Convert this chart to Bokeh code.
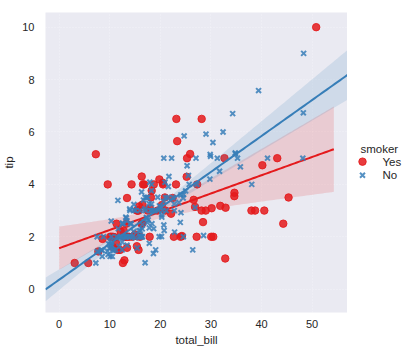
import numpy as np
from bokeh.plotting import figure
from bokeh.layouts import row
from bokeh.models import Range1d, FixedTicker
from bokeh.core.properties import value
from bokeh.embed import file_html
from bokeh.resources import INLINE

# ---- data (tips dataset) ----
yes_bill = [38.01, 11.24, 20.29, 13.81, 11.02, 18.29, 3.07, 15.01, 26.86, 25.28,
            17.92, 19.44, 32.68, 28.97, 5.75, 16.32, 40.17, 27.28, 12.03, 21.01,
            11.35, 15.38, 44.3, 22.42, 15.36, 20.49, 25.21, 14.31, 16.0, 17.51,
            10.59, 10.63, 50.81, 15.81, 7.25, 31.85, 16.82, 32.9, 17.89, 14.48,
            9.6, 34.63, 34.65, 23.33, 45.35, 23.17, 40.55, 20.9, 30.46, 18.15,
            23.1, 15.69, 19.81, 28.44, 15.48, 16.58, 10.34, 43.11, 13.0, 13.51,
            18.71, 12.74, 13.0, 16.4, 20.53, 16.47, 26.59, 38.73, 24.27, 12.76,
            30.06, 25.89, 13.27, 28.17, 12.9, 28.15, 11.59, 7.74, 30.14, 12.16,
            13.42, 8.58, 13.42, 16.27, 10.09, 22.12, 24.01, 15.69, 15.53, 12.6,
            32.83, 27.18, 22.67]
yes_tip = [3.0, 1.76, 3.21, 2.0, 1.98, 3.76, 1.0, 2.09, 3.14, 5.0,
           3.08, 3.0, 5.0, 3.0, 1.0, 4.3, 4.73, 4.0, 1.5, 3.0,
           2.5, 3.0, 2.5, 3.48, 1.64, 4.06, 4.29, 4.0, 2.0, 3.0,
           1.61, 2.0, 10.0, 3.16, 5.15, 3.18, 4.0, 3.11, 2.0, 2.0,
           4.0, 3.55, 3.68, 5.65, 3.5, 6.5, 3.0, 3.5, 2.0, 3.5,
           4.0, 1.5, 4.19, 2.56, 2.02, 4.0, 2.0, 5.0, 2.0, 2.0,
           4.0, 2.01, 2.0, 2.5, 4.0, 3.23, 3.41, 3.0, 2.03, 2.23,
           2.0, 5.16, 2.5, 6.5, 1.1, 3.0, 1.5, 1.44, 3.09, 2.2,
           3.48, 1.92, 1.58, 2.5, 2.0, 2.88, 2.0, 3.0, 3.0, 1.0,
           1.17, 2.0, 2.0]
no_bill = [16.99, 10.34, 21.01, 23.68, 24.59, 25.29, 8.77, 26.88, 15.04, 14.78,
           10.27, 35.26, 15.42, 18.43, 14.83, 21.58, 10.33, 16.29, 16.97, 20.65,
           17.92, 20.29, 15.77, 39.42, 19.82, 17.81, 13.37, 12.69, 21.7, 19.65,
           9.55, 18.35, 15.06, 20.69, 17.78, 24.06, 16.31, 16.93, 18.69, 31.27,
           16.04, 17.46, 13.94, 9.68, 30.4, 18.29, 22.23, 32.4, 28.55, 18.04,
           12.54, 10.29, 34.81, 9.94, 25.56, 19.49, 26.41, 48.27, 17.59, 20.08,
           16.45, 20.23, 12.02, 17.07, 14.73, 10.51, 27.2, 22.76, 17.29, 16.66,
           10.07, 15.98, 34.83, 13.03, 18.28, 24.71, 21.16, 22.49, 22.75, 12.46,
           20.92, 18.24, 14.0, 7.25, 38.07, 23.95, 25.71, 17.31, 29.93, 10.65,
           12.43, 24.08, 11.69, 13.42, 14.26, 15.95, 12.48, 29.8, 8.52, 14.52,
           11.38, 22.82, 19.08, 20.27, 11.17, 12.26, 18.26, 8.51, 10.33, 14.15,
           13.16, 17.47, 34.3, 41.19, 27.05, 16.43, 8.35, 18.64, 11.87, 9.78,
           7.51, 14.07, 13.13, 17.26, 24.55, 19.77, 29.85, 48.17, 25.0, 13.39,
           16.49, 21.5, 12.66, 16.21, 13.81, 24.52, 20.76, 31.71, 20.69, 7.56,
           48.33, 15.98, 20.45, 13.28, 11.61, 10.77, 10.07, 35.83, 29.03, 17.82,
           18.78]
no_tip = [1.01, 1.66, 3.5, 3.31, 3.61, 4.71, 2.0, 3.12, 1.96, 3.23,
          1.71, 5.0, 1.57, 3.0, 3.02, 3.92, 1.67, 3.71, 3.5, 3.35,
          4.08, 2.75, 2.23, 7.58, 3.18, 2.34, 2.0, 2.0, 4.3, 3.0,
          1.45, 2.5, 3.0, 2.45, 3.27, 3.6, 2.0, 3.07, 2.31, 5.0,
          2.24, 2.54, 3.06, 1.32, 5.6, 3.0, 5.0, 6.0, 2.05, 3.0,
          2.5, 2.6, 5.2, 1.56, 4.34, 3.51, 1.5, 6.73, 2.64, 3.15,
          2.47, 2.01, 1.97, 3.0, 2.2, 1.25, 4.0, 3.0, 2.71, 3.4,
          1.83, 2.03, 5.17, 2.0, 4.0, 5.85, 3.0, 3.5, 3.25, 1.5,
          4.08, 3.76, 3.0, 1.0, 4.0, 2.55, 4.0, 3.5, 5.07, 1.5,
          1.8, 2.92, 2.31, 1.68, 2.5, 2.0, 2.52, 4.2, 1.48, 2.0,
          2.0, 2.18, 1.5, 2.83, 1.5, 2.0, 3.25, 1.25, 2.0, 2.0,
          2.75, 3.5, 6.7, 5.0, 5.0, 2.3, 1.5, 1.36, 1.63, 1.73,
          2.0, 2.5, 2.0, 2.74, 2.0, 2.0, 5.14, 5.0, 3.75, 2.61,
          2.0, 3.5, 2.5, 2.0, 2.0, 3.48, 2.24, 4.5, 5.0, 1.44,
          9.0, 3.0, 3.0, 2.72, 3.39, 1.47, 1.25, 4.67, 5.92, 1.75,
          3.0]

hue_levels = ["Yes", "No"]
x_ticks = [0, 10, 20, 30, 40, 50]
y_ticks = [0, 2, 4, 6, 8, 10]
x_lim = (-2.7, 57.0)
y_lim = (-0.89, 10.56)
yes_fit_span = (0.0, 54.3)
no_fit_span = x_lim

RED = "#e41a1c"
BLUE = "#377eb8"
BG = "#eaeaf2"
TXT = "#262626"
FONT = "Liberation Sans"


def fit_band(x, y, span, n=120):
    """OLS fit with a leverage-adjusted (HC3) 95% band, close to a bootstrap CI."""
    x = np.asarray(x, float)
    y = np.asarray(y, float)
    X = np.column_stack([np.ones_like(x), x])
    beta, *_ = np.linalg.lstsq(X, y, rcond=None)
    resid = y - X @ beta
    xtx_inv = np.linalg.inv(X.T @ X)
    h = np.sum((X @ xtx_inv) * X, axis=1)
    w = (resid / (1 - h)) ** 2
    meat = X.T @ (X * w[:, None])
    cov = xtx_inv @ meat @ xtx_inv
    grid = np.linspace(span[0], span[1], n)
    G = np.column_stack([np.ones_like(grid), grid])
    yhat = G @ beta
    se = np.sqrt(np.sum((G @ cov) * G, axis=1))
    return grid, yhat, yhat - 1.96 * se, yhat + 1.96 * se


p = figure(frame_width=302, frame_height=300,
           min_border_left=43, min_border_right=0, min_border_top=12, min_border_bottom=40,
           x_range=Range1d(*x_lim), y_range=Range1d(*y_lim),
           output_backend="svg", toolbar_location=None)
p.background_fill_color = BG
p.border_fill_color = "white"
p.outline_line_color = None

for ax in (p.xaxis[0], p.yaxis[0]):
    ax.axis_line_color = None
    ax.major_tick_line_color = None
    ax.minor_tick_line_color = None
    ax.major_tick_out = 0
    ax.major_tick_in = 0
    ax.major_label_text_font = FONT
    ax.major_label_text_font_size = "11px"
    ax.major_label_text_color = TXT
    ax.axis_label_text_font = FONT
    ax.axis_label_text_font_size = "11.5px"
    ax.axis_label_text_font_style = "normal"
    ax.axis_label_text_color = TXT

p.xaxis.ticker = FixedTicker(ticks=x_ticks)
p.yaxis.ticker = FixedTicker(ticks=y_ticks)
p.xaxis.axis_label = "total_bill"
p.yaxis.axis_label = "tip"
p.xaxis.major_label_standoff = 7
p.xaxis.axis_label_standoff = 3
p.yaxis.major_label_standoff = 11
p.yaxis.axis_label_standoff = 4

p.xgrid.ticker = FixedTicker(ticks=x_ticks)
p.ygrid.ticker = FixedTicker(ticks=y_ticks)
for g in (p.xgrid[0], p.ygrid[0]):
    g.grid_line_color = "white"
    g.grid_line_alpha = 0.45
    g.grid_line_dash = "1 2"
    g.grid_line_width = 1

# Yes (smokers) first
p.scatter(yes_bill, yes_tip, marker="circle", size=7.5, fill_color=RED, line_color=RED,
          fill_alpha=0.85, line_alpha=0.85)
gx, gy, lo, hi = fit_band(yes_bill, yes_tip, yes_fit_span)
p.varea(x=gx, y1=lo, y2=hi, fill_color=RED, fill_alpha=0.15)
p.line(gx, gy, line_color=RED, line_width=2)

# No (non-smokers)
p.scatter(no_bill, no_tip, marker="x", size=7, line_color=BLUE, line_width=2, line_alpha=0.85)
gx, gy, lo, hi = fit_band(no_bill, no_tip, no_fit_span)
p.varea(x=gx, y1=lo, y2=hi, fill_color=BLUE, fill_alpha=0.15)
p.line(gx, gy, line_color=BLUE, line_width=2)

# legend panel
lg = figure(width=63, height=352, x_range=Range1d(345, 408), y_range=Range1d(352, 0),
            min_border=0, output_backend="svg", toolbar_location=None)
lg.axis.visible = False
lg.grid.visible = False
lg.outline_line_color = None
lg.background_fill_color = "white"
lg.text(x=[358], y=[160.5], text=["smoker"], text_font=value(FONT), text_font_size="11.5px",
        text_color=TXT, text_baseline="middle", text_align="left")
lg.scatter(x=[360], y=[175], marker="circle", size=7.5, fill_color=RED, line_color=RED,
           fill_alpha=0.85, line_alpha=0.85)
lg.scatter(x=[360], y=[191], marker="x", size=7, line_color=BLUE, line_width=2, line_alpha=0.85)
lg.text(x=[380, 380], y=[175, 191], text=hue_levels, text_font=value(FONT),
        text_font_size="11.5px", text_color=TXT, text_baseline="middle", text_align="left")

layout = row(p, lg, spacing=0)
open("out.html", "w").write(file_html(layout, INLINE))
